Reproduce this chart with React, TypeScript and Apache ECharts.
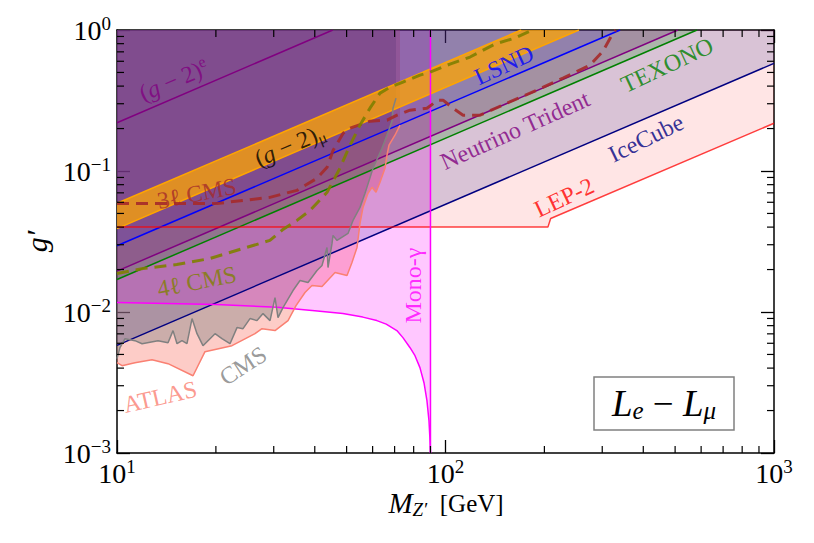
import React, { useEffect, useRef } from "react";
import * as echarts from "echarts";

const FONT = "'Liberation Serif', 'DejaVu Serif', serif";

// ---- axes ----
const massRange = [10, 1000];
const couplingRange = [0.001, 1];
const minorMultipliers = [2, 3, 4, 5, 6, 7, 8, 9];
const massDecades = [10, 100];
const couplingDecades = [0.001, 0.01, 0.1];

// ---- constraint boundaries [M_Z' (GeV), g'] ----
const g2eLine = [[10, 0.22], [45.4, 1]];
const g2muUpper = [[10, 0.059], [170, 1]];
const g2muLower = [[10, 0.039], [255, 1]];
const lsndLine = [[10, 0.0295], [340, 1]];
const tridentLine = [[10, 0.0195], [510, 1]];
const texonoLine = [[10, 0.017], [583, 1]];
const iceCubeLine = [[10, 0.0058], [1000, 0.58]];
const lep2Line = [[10, 0.04], [205, 0.04], [209, 0.046], [1000, 0.218]];
const monoGammaCurve = [
  [10, 0.0117], [20, 0.0113], [30.7, 0.0108], [40, 0.0102], [48.7, 0.00975],
  [56, 0.0092], [61.8, 0.00869], [66, 0.0082], [71.1, 0.00738], [74.2, 0.00658],
  [78, 0.00558], [80.75, 0.0049], [83.6, 0.00403], [86, 0.00315], [87.8, 0.00235],
  [89.07, 0.00169], [89.6, 0.0013], [90, 0.001],
];
const monoGammaEdge = [[90, 0.001], [90, 1]];
const atlasCurve = [
  [10, 0.00437], [10.36, 0.00416], [11.34, 0.00437], [12.78, 0.00459], [14.3, 0.0043],
  [17.04, 0.00353], [18.53, 0.00523], [22.39, 0.00577], [26.31, 0.00702], [27.63, 0.00762],
  [30.27, 0.00738], [33.16, 0.00869], [35.07, 0.0111], [37.35, 0.01374], [39.23, 0.0154],
  [42.08, 0.01516], [46.1, 0.01906], [50.14, 0.01814], [51.92, 0.02245], [53.78, 0.02869],
  [54.92, 0.04249], [56.09, 0.05521], [58.09, 0.06944], [59.74, 0.07659], [61.44, 0.07058],
  [63.19, 0.0831], [65.43, 0.1045], [66.35, 0.1293], [67.29, 0.1523], [70.18, 0.1794],
  [72.69, 0.2113],
];
const cmsCurve = [
  [10, 0.00467], [10.21, 0.00559], [10.58, 0.00647], [11.34, 0.00626], [11.92, 0.00596],
  [13.33, 0.00626], [14.3, 0.00606], [14.81, 0.00738], [15.23, 0.00596], [15.77, 0.00626],
  [16.33, 0.00596], [16.92, 0.00898], [17.52, 0.00702], [18.27, 0.00577], [19.88, 0.00702],
  [20.87, 0.00647], [22.08, 0.00596], [23.19, 0.00775], [24.19, 0.00762], [25.4, 0.00898],
  [26.68, 0.00869], [27.83, 0.00974], [29.23, 0.00869], [30.27, 0.01266], [30.91, 0.00913],
  [32.01, 0.01075], [34.34, 0.0142], [36.07, 0.01672], [38.15, 0.01618], [40.63, 0.01969],
  [42.08, 0.02137], [43.58, 0.02869], [43.89, 0.02068], [45.14, 0.03063], [45.45, 0.03492],
  [46.75, 0.03217], [50.49, 0.03608], [52.29, 0.04463], [54.92, 0.05521], [56.88, 0.06944],
  [60.16, 0.1045], [64.08, 0.145], [66.35, 0.1794], [68.73, 0.2255], [69.21, 0.279],
  [70.68, 0.3286],
];
const cms3lCurve = [
  [10, 0.0589], [20.2, 0.0589], [29.2, 0.065], [35.3, 0.0729], [40.6, 0.0887], [43.6, 0.1062],
  [45.5, 0.1404], [48.8, 0.1853], [51.2, 0.2012], [58.9, 0.2255], [66.4, 0.2293], [71.2, 0.2488],
  [78, 0.27], [87.8, 0.279], [94.9, 0.318], [98.3, 0.318], [105.4, 0.279], [113.1, 0.2488],
  [127.4, 0.2488], [153.9, 0.3028], [189.9, 0.3748], [227.9, 0.456], [275.4, 0.564],
  [301.7, 0.709], [323.6, 0.952], [330, 1],
];
const cms4lCurve = [
  [10, 0.01875], [12, 0.02034], [15.2, 0.02173], [19.2, 0.02396], [24.2, 0.02822],
  [29.2, 0.03218], [32, 0.03851], [35.3, 0.04463], [38.7, 0.05256], [43.6, 0.0706],
  [47.7, 0.1045], [51.2, 0.1523], [54.9, 0.2113], [58.9, 0.279], [63.2, 0.3566],
  [67.8, 0.3935], [74.2, 0.427], [83.6, 0.4787], [89.7, 0.503], [103.2, 0.573],
  [118.8, 0.643], [141.5, 0.795], [162.8, 0.877], [180.8, 0.984], [183, 1],
];

// ---- text annotations (anchor in data coords) ----
const annotationTexts = [
  "{n|(}{i|g}{n| − 2)}{sup|e}",
  "{n|(}{i|g}{n| − 2)}{sub|μ}",
  "3ℓ CMS",
  "4ℓ CMS",
  "LSND",
  "TEXONO",
  "Neutrino Trident",
  "IceCube",
  "LEP-2",
  "Mono-γ",
  "CMS",
  "ATLAS",
];
const annotationAnchors = [
  [14.9, 0.441], [33.6, 0.1523], [17.5, 0.0694], [17.5, 0.01645], [150.7, 0.564],
  [472.6, 0.564], [162.8, 0.1947], [407.8, 0.1708], [229.5, 0.065], [79.6, 0.0154],
  [24.19, 0.00416], [13.52, 0.0025],
];

function abovePolygon(curve: number[][]) {
  const last = curve[curve.length - 1];
  return [...curve, [last[0], couplingRange[1]], [curve[0][0], couplingRange[1]]];
}

function fillSeries(poly: number[][], color: string, z: number) {
  return {
    type: "custom",
    coordinateSystem: "cartesian2d",
    xAxisIndex: 0,
    yAxisIndex: 0,
    data: [poly[0]],
    clip: true,
    silent: true,
    z,
    renderItem: (_p: any, api: any) => ({
      type: "polygon",
      shape: { points: poly.map((p) => api.coord(p)) },
      style: { fill: color, stroke: "none" },
    }),
  };
}

function lineSeries(data: number[][], color: string, width: number, z: number, dash?: number[]) {
  return {
    type: "line",
    data,
    showSymbol: false,
    symbol: "none",
    silent: true,
    clip: true,
    z,
    lineStyle: { color, width, type: dash ? dash : "solid" },
  };
}

const LABEL_SIZE = 24;
const baseRich = {
  n: { fontFamily: FONT, fontSize: LABEL_SIZE, lineHeight: 28 },
  i: { fontFamily: FONT, fontSize: LABEL_SIZE, fontStyle: "italic", lineHeight: 28 },
  sup: { fontFamily: FONT, fontSize: 16, verticalAlign: "top" },
  sub: { fontFamily: FONT, fontSize: 16, verticalAlign: "bottom" },
};

export default function App() {
  const ref = useRef<HTMLDivElement>(null);
  useEffect(() => {
    const chart = echarts.init(ref.current!, null, { renderer: "svg" });

    const xMinor: number[][] = [];
    massDecades.forEach((d) => minorMultipliers.forEach((m) => xMinor.push([d * m, 0.01])));
    const yMinor: number[][] = [];
    couplingDecades.forEach((d) => minorMultipliers.forEach((m) => yMinor.push([100, d * m])));

    const tickLabelRich = {
      b: { fontFamily: FONT, fontSize: 28, color: "#000", lineHeight: 32 },
      s: { fontFamily: FONT, fontSize: 19, color: "#000", verticalAlign: "top" },
    };
    const expOf = (v: number) => {
      const e = Math.round(Math.log10(v));
      return e < 0 ? "−" + Math.abs(e) : String(e);
    };
    const axisCommon: any = {
      type: "log",
      logBase: 10,
      axisLine: { show: true, onZero: false, lineStyle: { color: "#000", width: 1.5 } },
      axisTick: { show: true, inside: true, length: 13, lineStyle: { color: "#000", width: 1.3 } },
      splitLine: { show: false },
      minorTick: { show: false },
    };

    const colors = ["#800080", "#000000", "#a52a2a", "#808000", "#0000ff", "#008000", "#800080", "#000080", "#ff0000", "#ff00ff", "#808080", "#fa8072"];
    const rotations = [23, 23, 11, 11, 25, 25, 24, 26, 25, 90, 33, 13];

    const annotationSeries = {
      type: "scatter",
      symbolSize: 1,
      silent: true,
      z: 20,
      itemStyle: { color: "rgba(0,0,0,0)" },
      data: annotationAnchors.map((a, k) => ({
        value: a,
        label: {
          show: true,
          position: "inside",
          formatter: annotationTexts[k],
          rotate: rotations[k],
          color: colors[k],
          fontFamily: FONT,
          fontSize: LABEL_SIZE,
          rich: {
            n: { ...baseRich.n, color: colors[k] },
            i: { ...baseRich.i, color: colors[k] },
            sup: { ...baseRich.sup, color: colors[k] },
            sub: { ...baseRich.sub, color: colors[k] },
          },
        },
      })),
    };

    const minorTickStyle = { stroke: "#000", lineWidth: 1.2 };
    const xMinorSeries = {
      type: "custom",
      data: xMinor,
      silent: true,
      clip: false,
      z: 30,
      renderItem: (_p: any, api: any) => {
        const v = api.value(0);
        const b = api.coord([v, couplingRange[0]]);
        const t = api.coord([v, couplingRange[1]]);
        return {
          type: "group",
          children: [
            { type: "line", shape: { x1: b[0], y1: b[1], x2: b[0], y2: b[1] - 7 }, style: minorTickStyle },
            { type: "line", shape: { x1: t[0], y1: t[1], x2: t[0], y2: t[1] + 7 }, style: minorTickStyle },
          ],
        };
      },
    };
    const yMinorSeries = {
      type: "custom",
      data: yMinor,
      silent: true,
      clip: false,
      z: 30,
      renderItem: (_p: any, api: any) => {
        const v = api.value(1);
        const l = api.coord([massRange[0], v]);
        const r = api.coord([massRange[1], v]);
        return {
          type: "group",
          children: [
            { type: "line", shape: { x1: l[0], y1: l[1], x2: l[0] + 7, y2: l[1] }, style: minorTickStyle },
            { type: "line", shape: { x1: r[0], y1: r[1], x2: r[0] - 7, y2: r[1] }, style: minorTickStyle },
          ],
        };
      },
    };

    const option: any = {
      animation: false,
      backgroundColor: "#ffffff",
      grid: { left: 117, right: 40, top: 30, bottom: 90, containLabel: false },
      xAxis: [
        {
          ...axisCommon,
          min: massRange[0],
          max: massRange[1],
          position: "bottom",
          axisLabel: {
            margin: 4,
            formatter: (v: number) => `{b|10}{s|${expOf(v)}}`,
            rich: tickLabelRich,
          },
        },
        { ...axisCommon, min: massRange[0], max: massRange[1], position: "top", axisLabel: { show: false } },
      ],
      yAxis: [
        {
          ...axisCommon,
          min: couplingRange[0],
          max: couplingRange[1],
          position: "left",
          axisLabel: {
            margin: 6,
            formatter: (v: number) => `{b|10}{s|${expOf(v)}}`,
            rich: tickLabelRich,
          },
          name: "g′",
          nameLocation: "middle",
          nameGap: 66,
          nameTextStyle: { fontFamily: FONT, fontSize: 30, fontStyle: "italic", color: "#000" },
        },
        { ...axisCommon, min: couplingRange[0], max: couplingRange[1], position: "right", axisLabel: { show: false } },
      ],
      series: [
        fillSeries(abovePolygon(atlasCurve), "rgba(250,128,114,0.4)", 1),
        fillSeries(abovePolygon(cmsCurve), "rgba(128,128,128,0.4)", 1),
        fillSeries(abovePolygon(monoGammaCurve), "rgba(255,0,255,0.22)", 1),
        fillSeries(abovePolygon(lep2Line), "rgba(255,0,0,0.1)", 1),
        fillSeries(abovePolygon(iceCubeLine), "rgba(0,0,128,0.15)", 1),
        fillSeries(abovePolygon(texonoLine), "rgba(0,128,0,0.2)", 1),
        fillSeries(abovePolygon(tridentLine), "rgba(128,0,128,0.2)", 1),
        fillSeries(abovePolygon(lsndLine), "rgba(0,0,255,0.11)", 1),
        fillSeries([...g2muUpper, ...[...g2muLower].reverse()], "rgba(255,165,0,0.75)", 2),
        lineSeries(g2eLine, "#800080", 1.5, 5),
        lineSeries(g2muUpper, "#ffa500", 1.5, 5),
        lineSeries(g2muLower, "#ffa500", 1.5, 5),
        lineSeries(lsndLine, "#0000ff", 1.5, 5),
        lineSeries(tridentLine, "#800080", 1.5, 5),
        lineSeries(texonoLine, "#008000", 1.5, 5),
        lineSeries(iceCubeLine, "#000080", 1.5, 5),
        lineSeries(lep2Line, "rgba(255,0,0,0.75)", 1.5, 5),
        lineSeries(monoGammaCurve, "#ff00ff", 1.5, 5),
        lineSeries(monoGammaEdge, "#ff00ff", 1.5, 5),
        lineSeries(atlasCurve, "#fa8072", 1.5, 5),
        lineSeries(cmsCurve, "#808080", 1.5, 5),
        lineSeries(cms3lCurve, "rgba(165,42,42,0.9)", 3, 6, [12, 7]),
        lineSeries(cms4lCurve, "rgba(128,128,0,0.9)", 3, 6, [12, 7]),
        annotationSeries,
        xMinorSeries,
        yMinorSeries,
      ],
      graphic: [
        {
          type: "text",
          x: 446,
          y: 503,
          z: 50,
          style: {
            text: "{i|M}{s|Z′}{g|  [GeV]}",
            align: "center",
            verticalAlign: "middle",
            fill: "#000",
            rich: {
              i: { fontFamily: FONT, fontSize: 29, fontStyle: "italic", fill: "#000", lineHeight: 32 },
              s: { fontFamily: FONT, fontSize: 19, fontStyle: "italic", fill: "#000", verticalAlign: "bottom" },
              g: { fontFamily: FONT, fontSize: 25, fill: "#000", lineHeight: 32 },
            },
          },
        },
        {
          type: "group",
          z: 50,
          children: [
            {
              type: "rect",
              shape: { x: 594, y: 377, width: 140, height: 53 },
              style: { fill: "#fff", stroke: "#808080", lineWidth: 1.5 },
            },
            {
              type: "text",
              x: 664,
              y: 403,
              style: {
                text: "{i|L}{s|e}{n| − }{i|L}{s|μ}",
                align: "center",
                verticalAlign: "middle",
                fill: "#000",
                rich: {
                  i: { fontFamily: FONT, fontSize: 37, fontStyle: "italic", fill: "#000", lineHeight: 40 },
                  n: { fontFamily: FONT, fontSize: 37, fill: "#000", lineHeight: 40 },
                  s: { fontFamily: FONT, fontSize: 25, fontStyle: "italic", fill: "#000", verticalAlign: "bottom" },
                },
              },
            },
          ],
        },
      ],
    };
    chart.setOption(option);
    return () => chart.dispose();
  }, []);
  return (
    <div
      ref={ref}
      style={{ position: "fixed", left: 0, top: 0, width: 814, height: 543, background: "#fff" }}
    />
  );
}
